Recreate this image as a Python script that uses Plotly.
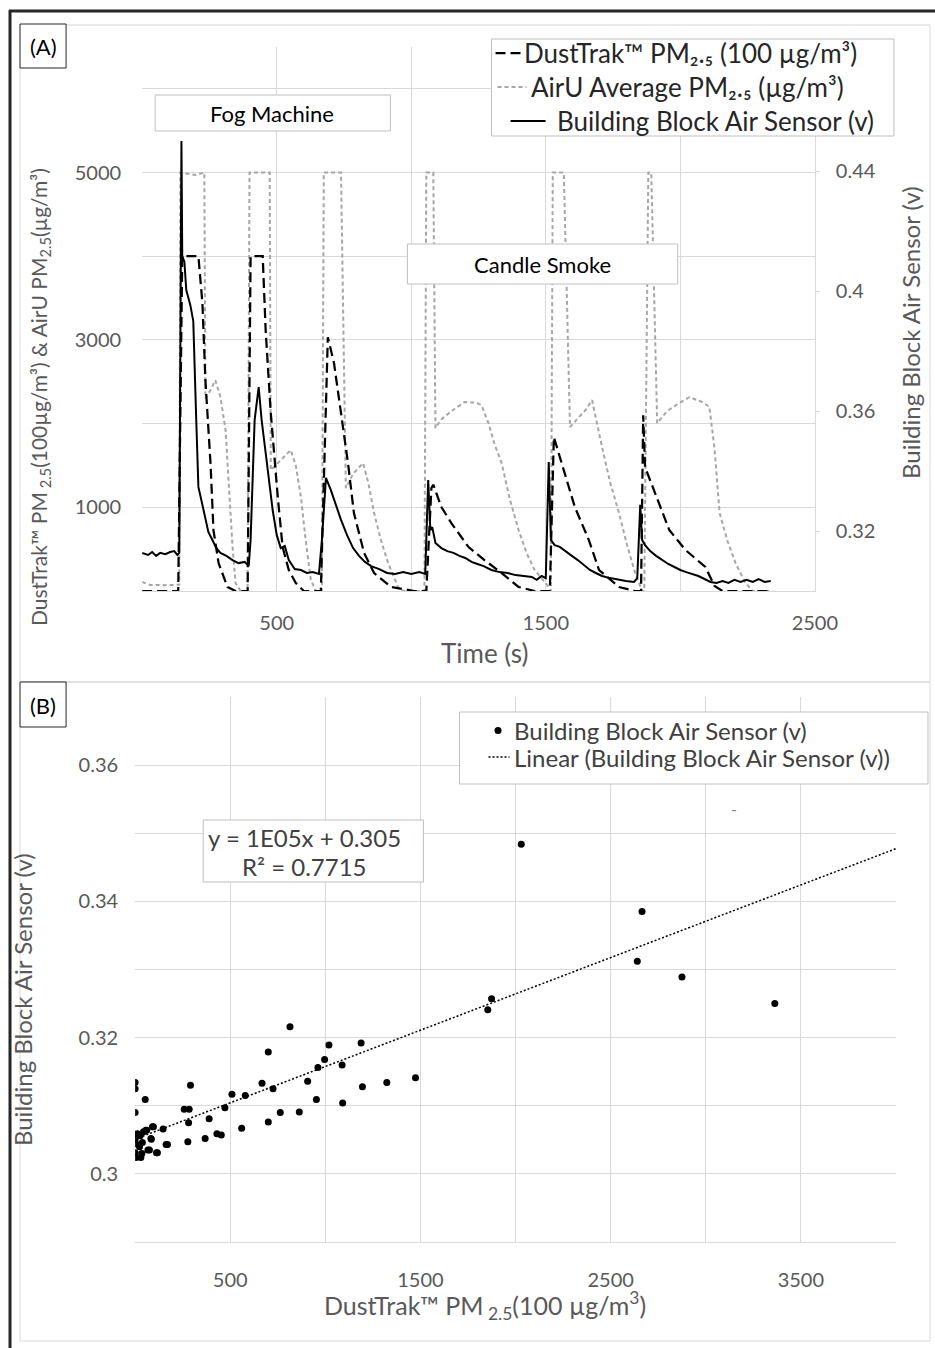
import plotly.graph_objects as go

W, H = 935, 1348
FIG_W = 959
def px(x): return x / W
def py(y): return 1 - y / H

FONT = "Lato, 'Open Sans', 'Noto Sans', sans-serif"
GRID = "#d9d9d9"
TICK = "#595959"

# ---------------- Panel A data ----------------
sensor_t = [0, 22, 37, 52, 67, 86, 104, 119, 131, 138, 146, 149, 157, 164, 179, 190, 201, 209, 220, 235,
            246, 261, 276, 291, 313, 336, 358, 381, 396, 403, 418, 433, 444, 455, 470, 485, 500, 515, 530,
            545, 567, 590, 612, 634, 657, 668, 683, 701, 720, 739, 761, 784, 806, 828, 851, 881, 910, 940,
            970, 1000, 1030, 1052, 1063, 1071, 1078, 1090, 1112, 1134, 1157, 1179, 1201, 1224, 1246, 1269,
            1298, 1328, 1358, 1388, 1418, 1448, 1466, 1485, 1500, 1511, 1519, 1533, 1552, 1575, 1597, 1619,
            1642, 1664, 1686, 1709, 1739, 1769, 1798, 1828, 1840, 1851, 1858, 1869, 1888, 1910, 1933, 1955,
            1978, 2000, 2022, 2045, 2067, 2090, 2112, 2134, 2157, 2179, 2201, 2224, 2246, 2269, 2291, 2313, 2336]
sensor_v = [0.3127, 0.3120, 0.3130, 0.3117, 0.3127, 0.3123, 0.3130, 0.3133, 0.3120, 0.3127, 0.4500, 0.4117,
            0.4097, 0.4003, 0.3953, 0.3900, 0.3570, 0.3347, 0.3303, 0.3247, 0.3197, 0.3170, 0.3143, 0.3127,
            0.3117, 0.3103, 0.3093, 0.3097, 0.3083, 0.3170, 0.3570, 0.3680, 0.3570, 0.3490, 0.3377, 0.3270,
            0.3187, 0.3143, 0.3150, 0.3103, 0.3073, 0.3070, 0.3060, 0.3063, 0.3057, 0.3170, 0.3377, 0.3337,
            0.3287, 0.3237, 0.3187, 0.3143, 0.3117, 0.3097, 0.3083, 0.3073, 0.3060, 0.3057, 0.3063, 0.3057,
            0.3063, 0.3057, 0.3370, 0.3203, 0.3213, 0.3160, 0.3143, 0.3133, 0.3127, 0.3117, 0.3110, 0.3097,
            0.3090, 0.3083, 0.3070, 0.3063, 0.3060, 0.3053, 0.3050, 0.3047, 0.3037, 0.3050, 0.3043, 0.3430,
            0.3170, 0.3153, 0.3147, 0.3133, 0.3117, 0.3103, 0.3087, 0.3070, 0.3060, 0.3050, 0.3043, 0.3037,
            0.3033, 0.3030, 0.3043, 0.3287, 0.3170, 0.3153, 0.3133, 0.3117, 0.3103, 0.3090, 0.3080, 0.3070,
            0.3063, 0.3057, 0.3050, 0.3040, 0.3030, 0.3027, 0.3033, 0.3027, 0.3037, 0.3030, 0.3037, 0.3030,
            0.3040, 0.3030, 0.3033]

dust_t = [0, 131, 134, 149, 209, 224, 235, 254, 265, 284, 317, 347, 392, 403, 448, 459, 478, 504, 522, 545,
          571, 601, 664, 690, 713, 739, 765, 787, 825, 862, 925, 1011, 1056, 1075, 1082, 1112, 1149, 1213,
          1272, 1336, 1399, 1459, 1515, 1530, 1571, 1608, 1660, 1698, 1772, 1832, 1854, 1862, 1869, 1907,
          1959, 2019, 2093, 2127, 2157, 2325]
dust_pm = [0, 0, 0, 4000, 4000, 3438, 2519, 1528, 728, 334, 48, 0, 0, 4000, 4000, 3116, 2125, 1122, 525, 250,
           96, 0, 0, 3033, 2722, 2125, 1528, 931, 453, 215, 48, 0, 0, 1230, 1270, 1003, 812, 525,
           370, 215, 48, 0, 0, 1839, 1409, 1003, 609, 251, 48, 0, 0, 2100, 1480, 1170,
           728, 490, 287, 60, 0, 0]

airu_t = [0, 30, 86, 127, 138, 142, 198, 231, 235, 254, 272, 291, 310, 321, 336, 347, 366, 392, 399, 474,
          478, 496, 522, 552, 571, 590, 608, 627, 646, 668, 675, 739, 757, 784, 821, 840, 862, 888, 914, 951,
          970, 1049, 1056, 1082, 1090, 1112, 1149, 1198, 1243, 1261, 1287, 1310, 1336, 1366, 1399, 1429,
          1459, 1511, 1519, 1526, 1567, 1590, 1623, 1645, 1672, 1690, 1709, 1739, 1772, 1802, 1832, 1858,
          1866, 1881, 1892, 1914, 1951, 1996, 2034, 2082, 2108, 2127, 2146, 2175, 2205, 2242, 2269, 2343]
airu_pm = [107, 72, 70, 75, 75, 5000, 4970, 5000, 2300, 2400, 2519, 2316, 1922, 1325, 525, 96, 0, 0, 5000, 5000,
           1445, 1500, 1580, 1684, 1500, 1122, 600, 131, 0, 0, 5000, 5000, 1230, 1400, 1528, 1300, 931, 600, 334, 48,
           0, 0, 5000, 5000, 1946, 2050, 2150, 2257, 2250, 2220, 2006, 1750, 1528, 1100, 728, 450,
           250, 48, 0, 5000, 5000, 1958, 2078, 2150, 2280, 2000, 1720, 1300, 931, 550, 215, 0,
           0, 5000, 5000, 2006, 2150, 2245, 2316, 2257, 2200, 1700, 931, 600, 334, 96, 0, 0]

# ---------------- Panel B data ----------------
scatter_dust = [0, 0, 53, 0, 291, 258, 284, 281, 389, 472, 509, 579, 667, 700, 814, 725, 700, 763, 863, 907,
                953, 961, 996, 1019, 1088, 1091, 1188, 1195, 1323, 1474, 1854, 1874, 2030, 2665, 2640, 2875,
                3363, 560, 430, 453, 368, 277, 163, 147, 91, 112, 67, 83, 56,
                0, 12, 26, 44, 61, 96, 0, 38, 85, 5, 23, 0, 35, 5, 30, 75, 117, 170]
scatter_sensor = [0.3134, 0.3125, 0.3109, 0.3090, 0.3130, 0.3095, 0.3095, 0.3075, 0.3081, 0.3097, 0.3117,
                  0.3115, 0.3133, 0.3179, 0.3216, 0.3125, 0.3076, 0.3090, 0.3091, 0.3136, 0.3109, 0.3156,
                  0.3168, 0.3189, 0.3160, 0.3104, 0.3192, 0.3128, 0.3134, 0.3141, 0.3241, 0.3257, 0.3484,
                  0.3385, 0.3312, 0.3289, 0.3250, 0.3067, 0.3059, 0.3057, 0.3052, 0.3047, 0.3043, 0.3066,
                  0.3069, 0.3031, 0.3035, 0.3052, 0.3064,
                  0.3058, 0.3059, 0.3056, 0.3062, 0.3064, 0.3069, 0.3051, 0.3046, 0.3051, 0.3044, 0.3040,
                  0.3031, 0.3030, 0.3024, 0.3024, 0.3035, 0.3031, 0.3043]
trend_slope = 1.066e-5
trend_intercept = 0.3051
trend_x = [0, 4000]

a_x_ticks = [0, 500, 1000, 1500, 2000, 2500]
a_x_text = ["", "500", "", "1500", "", "2500"]
a_y_ticks = [0, 1000, 2000, 3000, 4000, 5000, 6000]
a_y_text = ["", "1000", "", "3000", "", "5000", ""]
a_y2_ticks = [0.32, 0.36, 0.40, 0.44]
a_y2_text = ["0.32", "0.36", "0.4", "0.44"]
b_x_ticks = [0, 500, 1000, 1500, 2000, 2500, 3000, 3500, 4000]
b_x_text = ["", "500", "", "1500", "", "2500", "", "3500", ""]
b_y_ticks = [0.29, 0.30, 0.31, 0.32, 0.33, 0.34, 0.35, 0.36, 0.37]
b_y_text = ["", "0.3", "", "0.32", "", "0.34", "", "0.36", ""]

name_dust = "DustTrak™ PM₂.₅ (100 µg/m³)"
name_airu = "AirU Average PM₂.₅ (µg/m³)"
name_sensor = "Building Block Air Sensor (v)"
name_linear = "Linear (Building Block Air Sensor (v))"

DUST_LINE = dict(color="black", width=2.25, dash="10px,5px")
AIRU_LINE = dict(color="#a6a6a6", width=2, dash="4px,3px")
SENS_LINE = dict(color="black", width=2)
TREND_LINE = dict(color="black", width=1.5, dash="2px,2px")

fig = go.Figure()
fig.add_trace(go.Scatter(x=airu_t, y=airu_pm, mode="lines", name=name_airu, line=AIRU_LINE,
                         xaxis="x", yaxis="y", showlegend=False))
fig.add_trace(go.Scatter(x=dust_t, y=dust_pm, mode="lines", name=name_dust, line=DUST_LINE,
                         xaxis="x", yaxis="y", showlegend=False))
fig.add_trace(go.Scatter(x=sensor_t, y=sensor_v, mode="lines", name=name_sensor, line=SENS_LINE,
                         xaxis="x", yaxis="y2", showlegend=False))
fig.add_trace(go.Scatter(x=scatter_dust, y=scatter_sensor, mode="markers", name=name_sensor,
                         marker=dict(color="black", size=7), xaxis="x3", yaxis="y3", showlegend=False))
trend_y = [trend_intercept + trend_slope * v for v in trend_x]
fig.add_trace(go.Scatter(x=trend_x, y=trend_y, mode="lines", name=name_linear, line=TREND_LINE,
                         xaxis="x3", yaxis="y3", showlegend=False))

axis_common = dict(showgrid=True, gridcolor=GRID, gridwidth=1, zeroline=False,
                   tickfont=dict(family=FONT, size=20, color=TICK), ticks="")

fig.update_layout(
    width=FIG_W, height=H, autosize=False,
    margin=dict(l=0, r=0, t=0, b=0),
    paper_bgcolor="white", plot_bgcolor="white",
    font=dict(family=FONT, color="black"),
    showlegend=False,
    xaxis=dict(domain=[px(142), px(814)], anchor="y", range=[0, 2500], tickmode="array",
               tickvals=a_x_ticks, ticktext=a_x_text, showline=True, linecolor=GRID,
               ticklabelstandoff=14, **axis_common),
    yaxis=dict(domain=[py(591), py(47)], anchor="x", range=[0, 6500], tickmode="array",
               tickvals=a_y_ticks, ticktext=a_y_text, showline=False, ticklabelstandoff=20, **axis_common),
    yaxis2=dict(overlaying="y", side="right", anchor="x", range=[0.30, 0.30 + 544 / 3000],
                tickmode="array", tickvals=a_y2_ticks, ticktext=a_y2_text, showgrid=False, zeroline=False,
                showline=True, linecolor=GRID, ticks="outside", ticklen=4, tickcolor=GRID,
                ticklabelstandoff=12, tickfont=dict(family=FONT, size=20, color=TICK)),
    xaxis3=dict(domain=[px(135), px(895)], anchor="y3", range=[0, 4000], tickmode="array",
                tickvals=b_x_ticks, ticktext=b_x_text, showline=True, linecolor=GRID,
                ticklabelstandoff=20, **axis_common),
    yaxis3=dict(domain=[py(1242), py(697)], anchor="x3", range=[0.29, 0.37], tickmode="array",
                tickvals=b_y_ticks, ticktext=b_y_text, showline=False, ticklabelstandoff=16, **axis_common),
)

shapes = []
def rect(x0, y0, x1, y1, color, width=1, fill="white"):
    shapes.append(dict(type="rect", xref="paper", yref="paper", x0=px(x0), x1=px(x1), y0=py(y1), y1=py(y0),
                       line=dict(color=color, width=width), fillcolor=fill))
def hline(x0, x1, y, line):
    shapes.append(dict(type="line", xref="paper", yref="paper", x0=px(x0), x1=px(x1), y0=py(y), y1=py(y),
                       line=line))

# outer dark frame (top + left)
shapes.append(dict(type="line", xref="paper", yref="paper", x0=px(9), x1=1, y0=py(11), y1=py(11),
                   line=dict(color="#262626", width=3)))
shapes.append(dict(type="line", xref="paper", yref="paper", x0=px(10), x1=px(10), y0=py(10), y1=0,
                   line=dict(color="#262626", width=3)))
# panel borders
rect(20, 25, 929, 682, GRID, fill="rgba(0,0,0,0)")
rect(20, 682, 929, 1341, GRID, fill="rgba(0,0,0,0)")
# (A) / (B) boxes
rect(20, 24, 66, 68, "#262626")
rect(20, 682, 66, 727, "#262626")
# Fog Machine / Candle Smoke boxes
rect(155, 95, 390, 131, "#bfbfbf")
rect(407, 244, 677, 284, "#bfbfbf")
# equation box
rect(203, 820, 423, 882, "#bfbfbf")
# legend A
rect(491, 39, 893, 136, "#bfbfbf")
hline(495, 520, 53, DUST_LINE)
hline(497, 526, 87, AIRU_LINE)
hline(510, 545, 121, SENS_LINE)
# legend B
rect(459, 712, 927, 784, "#bfbfbf")
shapes.append(dict(type="circle", xref="paper", yref="paper", x0=px(494), x1=px(501), y0=py(734), y1=py(727),
                   line=dict(color="black", width=0), fillcolor="black"))
hline(488, 509, 757, TREND_LINE)
fig.update_layout(shapes=shapes)

ann = []
def text(x, y, s, size=20, color="black", angle=0, xanchor="center"):
    ann.append(dict(xref="paper", yref="paper", x=px(x), y=py(y), text=s, showarrow=False,
                    font=dict(family=FONT, size=size, color=color), textangle=angle,
                    xanchor=xanchor, yanchor="middle"))

text(43, 46, "(A)", 22)
text(43, 705, "(B)", 22)
text(272, 113, "Fog Machine", 22)
text(542, 265, "Candle Smoke", 22)
text(484, 653, "Time (s)", 26, TICK)
text(40, 397, "DustTrak™ PM<sub> 2.5</sub>(100µg/m³) & AirU PM<sub>2.5</sub>(µg/m³)", 21, TICK, -90)
text(910, 332, "Building Block Air Sensor (v)", 24, TICK, -90)
text(22, 1000, "Building Block Air Sensor (v)", 24, TICK, -90)
text(484, 1305, "DustTrak™ PM<sub> 2.5</sub>(100 µg/m<sup>3</sup>)", 25, TICK)
text(304, 837, "y = 1E05x + 0.305", 24, "#404040")
text(304, 866, "R² = 0.7715", 24, "#404040")
text(733, 808, "-", 16, "#7f7f7f")
# legend texts
text(521, 53, name_dust, 26, "#262626", xanchor="left")
text(528, 87, name_airu, 26, "#262626", xanchor="left")
text(554, 121, name_sensor, 26, "#262626", xanchor="left")
text(511, 730, name_sensor, 24, "#404040", xanchor="left")
text(511, 757, name_linear, 24, "#404040", xanchor="left")
fig.update_layout(annotations=ann)

fig.write_html("out.html", config={"displayModeBar": False, "responsive": False},
               post_script="document.body.style.margin='0px';document.body.style.overflow='hidden';")
